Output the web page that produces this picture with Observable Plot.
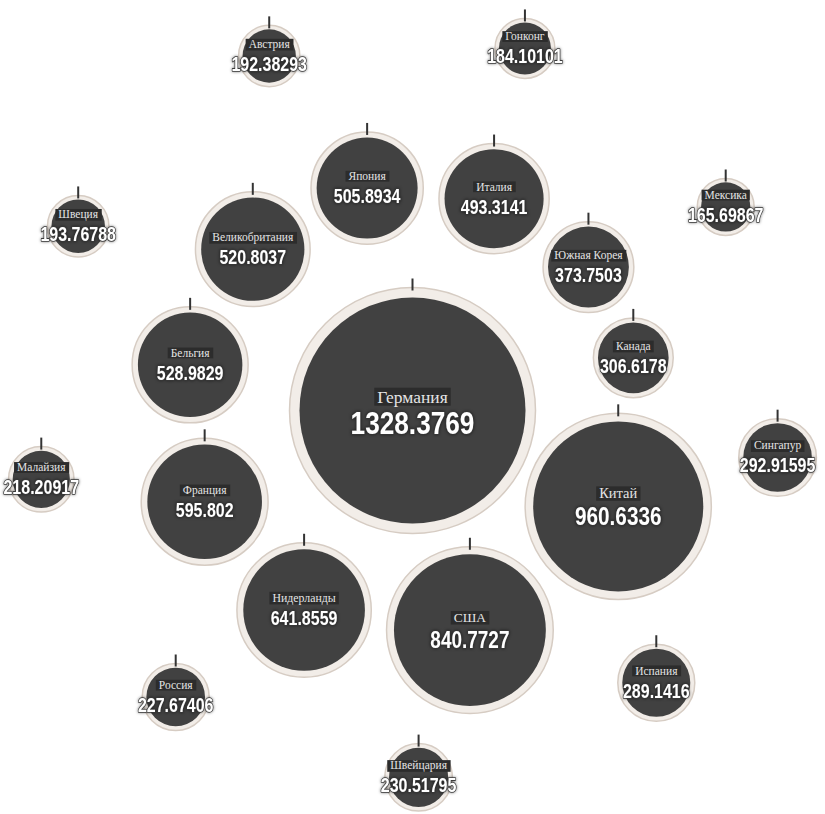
<!DOCTYPE html>
<html><head><meta charset="utf-8">
<script src="https://cdn.jsdelivr.net/npm/d3@7"></script>
<script src="https://cdn.jsdelivr.net/npm/@observablehq/plot@0.6"></script>
<style>
html,body{margin:0;padding:0;background:#fff}
</style>
</head><body>
<script>
// ---- data ----
const countries = ["Германия","Китай","США","Нидерланды","Франция","Бельгия","Великобритания","Япония","Италия","Южная Корея","Канада","Сингапур","Испания","Швейцария","Россия","Малайзия","Швеция","Австрия","Гонконг","Мексика"];
const values = [1328.3769, 960.6336, 840.7727, 641.8559, 595.802, 528.9829, 520.8037, 505.8934, 493.3141, 373.7503, 306.6178, 292.91595, 289.1416, 230.51795, 227.67406, 218.20917, 193.76788, 192.38293, 184.10101, 165.69867];

const rows = countries.map((name, i) => ({name, value: values[i], label: String(values[i])}));

// ---- radius scale (shared with the plot) ----
const rOpts = {type: "linear", domain: [0, d3.max(values)], range: [15, 123]};
const rScale = Plot.scale({r: rOpts});
const rad = d => rScale.apply(d.value);

// ---- radial layout: biggest in the centre, >=300 in an inner ring, rest in an outer ring,
// each ring sorted descending clockwise ----
const sorted = rows.slice().sort((a, b) => b.value - a.value);
const centre = sorted[0];
centre.px = 0; centre.py = 0;
const inner = sorted.slice(1).filter(d => d.value >= 300);
const outer = sorted.slice(1).filter(d => d.value < 300);

const D1 = 227, pad = 15, start1 = 115 * Math.PI / 180;
const arcs = inner.map((d, i) => {
  const e = inner[(i + 1) % inner.length];
  return 2 * Math.asin(Math.min(1, (rad(d) + rad(e) + pad) / (2 * D1)));
});
const k = 2 * Math.PI / d3.sum(arcs);
let th = start1;
inner.forEach((d, i) => { d.px = D1 * Math.sin(th); d.py = -D1 * Math.cos(th); th += arcs[i] * k; });

const D2 = 374, start2 = 98.3 * Math.PI / 180, oc = [-5, -7];
outer.forEach((d, i) => {
  const t = start2 + i * 2 * Math.PI / outer.length;
  d.px = oc[0] + D2 * Math.sin(t); d.py = oc[1] - D2 * Math.cos(t);
});

// ---- custom symbols ----
const innerDisc = {draw(ctx, size) {
  const r = Math.sqrt(size / Math.PI);
  const ri = r - (2 + 0.065 * r);
  ctx.moveTo(ri, 0); ctx.arc(0, 0, ri, 0, 2 * Math.PI);
}};
const topTick = {draw(ctx, size) {
  const r = Math.sqrt(size / Math.PI);
  ctx.moveTo(0, -r - 9); ctx.lineTo(0, -r + 3);
}};

const labelSize = d3.scaleLinear([600, 1330], [11.5, 17.5]).clamp(true);
const valueSize = d3.scaleLinear([640, 1330], [19.5, 32]).clamp(true);

const svg = Plot.plot({
  width: 825, height: 814, margin: 0,
  x: {type: "linear", domain: [-412, 413], range: [0, 825], axis: null},
  y: {type: "linear", domain: [-410, 404], range: [0, 814], axis: null},
  r: rOpts,
  style: {background: "#fff"},
  marks: [
    Plot.dot(sorted, {x: "px", y: "py", r: "value", fill: "#f2ede8", stroke: "#d6ccc3", strokeWidth: 1.5}),
    Plot.dot(sorted, {x: "px", y: "py", r: "value", symbol: innerDisc, fill: "#414141", stroke: "none"}),
    Plot.dot(sorted, {x: "px", y: "py", r: "value", symbol: topTick, fill: "none", stroke: "#333", strokeWidth: 2}),
    Plot.text(sorted, {x: "px", y: "py", text: "name", fontSize: d => labelSize(d.value), lineAnchor: "bottom", dy: -8,
      fill: "#e4e4e4", fontFamily: "'Liberation Serif', 'DejaVu Serif', serif"}),
    Plot.text(sorted, {x: "px", y: "py", text: "label", fontSize: d => valueSize(d.value), lineAnchor: "top", dy: 1,
      fill: "#fff", stroke: "#3a3a3a", strokeWidth: 1.6, paintOrder: "stroke", fontWeight: "bold",
      fontFamily: "'Liberation Sans', Arial, sans-serif"})
  ]
});
document.body.append(svg);

// dark boxes behind the country names; condensed look and drop shadow on the values
const ns = "http://www.w3.org/2000/svg";
const textGroups = svg.querySelectorAll('g[aria-label="text"]');
const labelG = textGroups[0];
labelG.querySelectorAll("text").forEach(t => {
  const b = t.getBBox();
  const rect = document.createElementNS(ns, "rect");
  rect.setAttribute("x", b.x - 3);
  rect.setAttribute("y", b.y + b.height * 0.06);
  rect.setAttribute("width", b.width + 6);
  rect.setAttribute("height", b.height * 0.9);
  rect.setAttribute("fill", "#2c2c2c");
  rect.setAttribute("stroke", "none");
  if (t.getAttribute("transform")) rect.setAttribute("transform", t.getAttribute("transform"));
  labelG.insertBefore(rect, t);
});
const valueG = textGroups[1];
valueG.querySelectorAll("text").forEach(t => {
  const tr = t.getAttribute("transform");
  if (tr) {
    t.setAttribute("transform", tr + " scale(0.82,1)");
  } else {
    const x = +t.getAttribute("x") || 0, y = +t.getAttribute("y") || 0;
    t.setAttribute("transform", `translate(${x},${y}) scale(0.82,1) translate(${-x},${-y})`);
  }
});
valueG.style.filter = "drop-shadow(0 0 1.5px rgba(0,0,0,0.55))";
</script>
</body></html>
